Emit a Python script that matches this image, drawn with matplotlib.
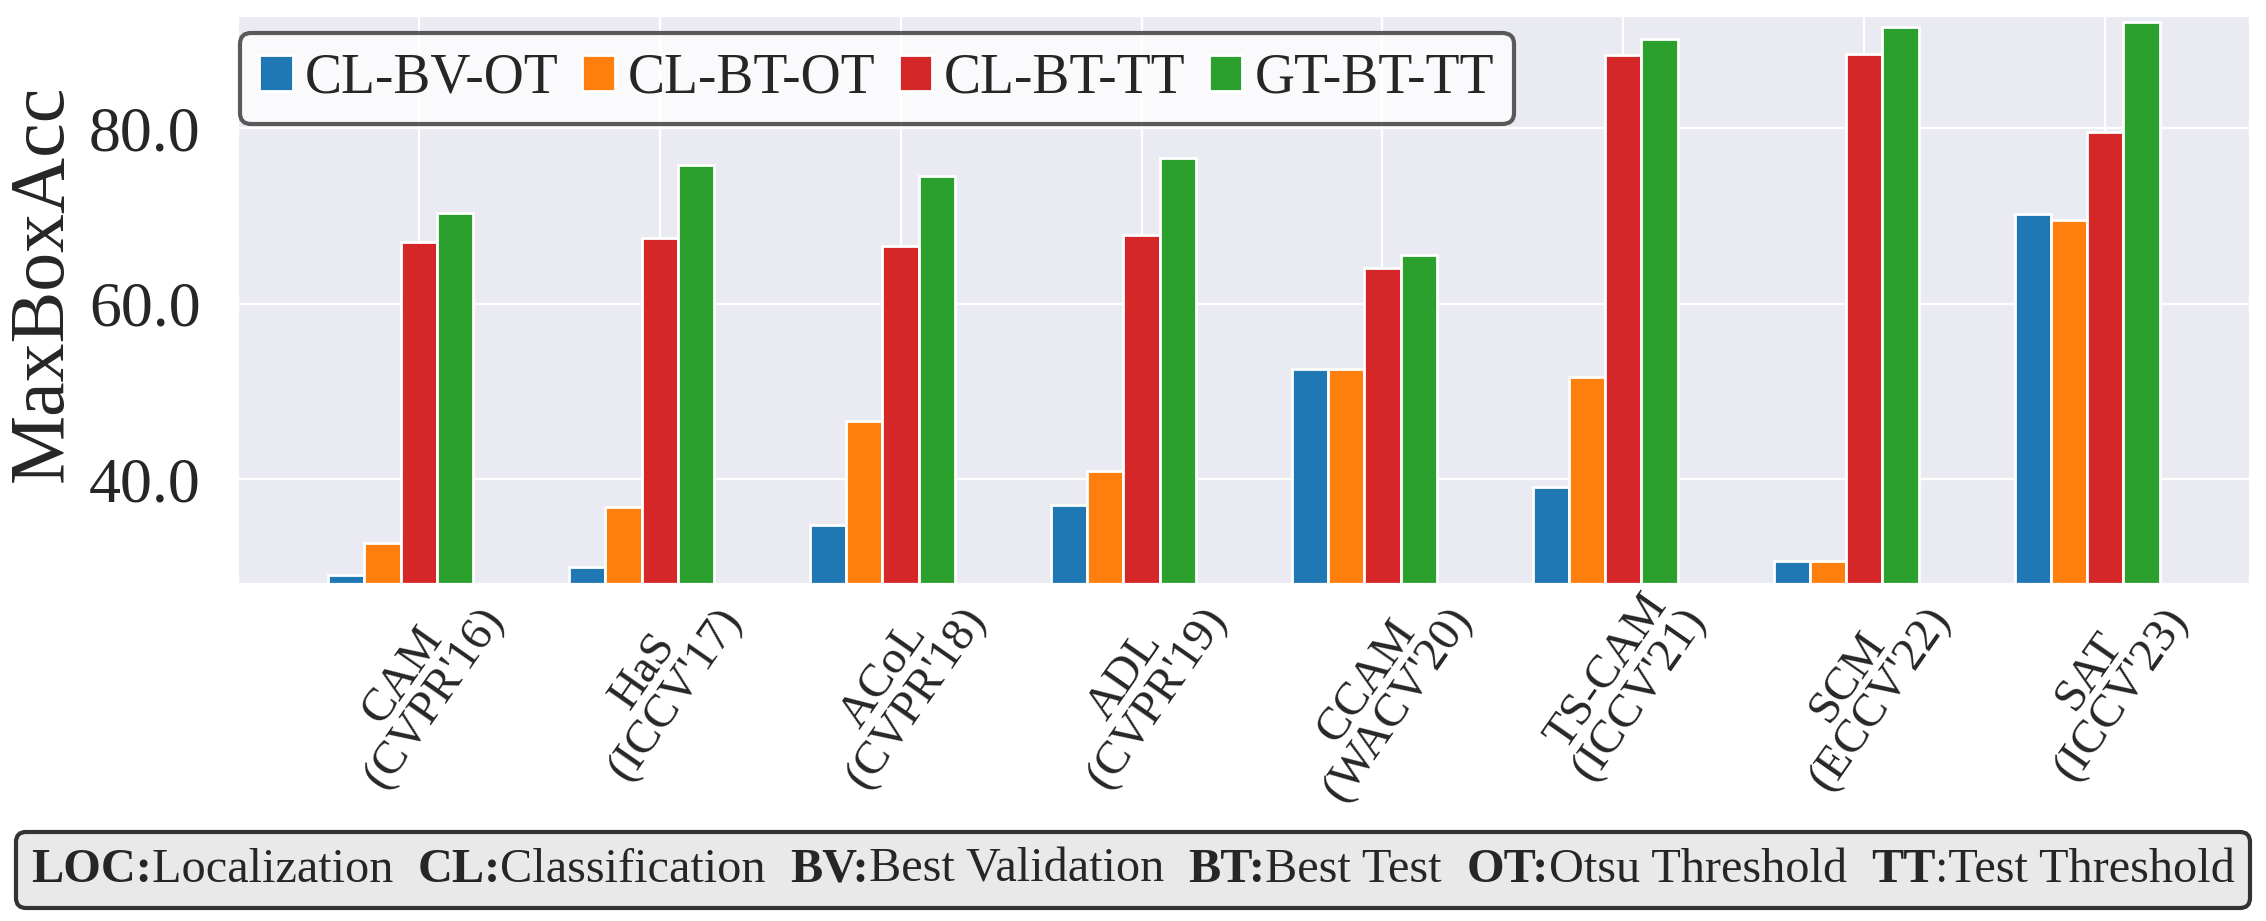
import matplotlib

matplotlib.use("Agg")

import matplotlib.pyplot as plt
import numpy as np
import seaborn as sns
from matplotlib.offsetbox import AnchoredOffsetbox, HPacker, TextArea
from matplotlib.patches import FancyBboxPatch
from matplotlib.ticker import FormatStrFormatter

# données (MaxBoxAcc)
methods = ["CAM\n(CVPR'16)", "HaS\n(ICCV'17)", "ACoL\n(CVPR'18)", "ADL\n(CVPR'19)",
           "CCAM\n(WACV'20)", "TS-CAM\n(ICCV'21)", "SCM\n(ECCV'22)", "SAT\n(ICCV'23)"]
series_names = ["CL-BV-OT", "CL-BT-OT", "CL-BT-TT", "GT-BT-TT"]
cl_bv_ot = [29.1, 30.0, 34.8, 37.1, 52.6, 39.1, 30.7, 70.2]
cl_bt_ot = [32.7, 36.9, 46.6, 40.9, 52.6, 51.7, 30.7, 69.6]
cl_bt_tt = [67.0, 67.5, 66.6, 67.8, 64.1, 88.4, 88.5, 79.6]
gt_bt_tt = [70.4, 75.8, 74.6, 76.6, 65.6, 90.2, 91.5, 92.1]
yticks = [40, 60, 80]

abbrevs = [("LOC:", "Localization"), ("CL:", "Classification"), ("BV:", "Best Validation"),
           ("BT:", "Best Test"), ("OT:", "Otsu Threshold"), ("TT", ":Test Threshold")]

colors = ["#1f77b4", "#ff7f0e", "#d62728", "#2ca02c"]

sns.set_style("darkgrid")
plt.rcParams["font.family"] = ["Liberation Serif", "DejaVu Serif"]

fig = plt.figure(figsize=(11.33, 4.605), dpi=200)
ax = fig.add_axes([0.105, 0.3659, 0.8879, 0.6167])

x = np.arange(len(methods))
width = 0.15
series = [cl_bv_ot, cl_bt_ot, cl_bt_tt, gt_bt_tt]
for i, (vals, name, c) in enumerate(zip(series, series_names, colors)):
    ax.bar(x + (i - 2) * width, vals, width, color=c, edgecolor="white",
           linewidth=1.0, label=name)

ax.set_xlim(-0.75, 7.6)
ax.set_ylim(28.07, 92.8)
ax.set_yticks(yticks)
ax.yaxis.set_major_formatter(FormatStrFormatter("%.1f"))
ax.tick_params(axis="y", labelsize=23, pad=10)
ax.set_xticks(x)
ax.set_xticklabels(methods, rotation=55, ha="center", fontsize=17, linespacing=0.9)
ax.tick_params(axis="x", pad=-6)
ax.set_ylabel("MaxBoxAcc", fontsize=28)
ax.yaxis.set_label_coords(-0.079, 0.53)

leg = ax.legend(loc="upper left", bbox_to_anchor=(0.001, 0.97), borderaxespad=0,
                ncol=4, fontsize=20, handlelength=0.6, handleheight=0.6,
                handletextpad=0.22, columnspacing=0.42, borderpad=0.35,
                fancybox=True, edgecolor="#333333", facecolor="white", framealpha=0.8)
leg.get_frame().set_linewidth(1.5)

# boîte des abréviations en bas (coordonnées en pixels)
frame = FancyBboxPatch((16, 13), 2234, 76, boxstyle="round,pad=0,rounding_size=10",
                       transform=None, facecolor="#e9e9e9", edgecolor="#333333",
                       linewidth=1.5)
fig.add_artist(frame)

parts = []
for k, (bold, normal) in enumerate(abbrevs):
    parts.append(TextArea(bold, textprops=dict(fontsize=17.4, fontweight="bold")))
    txt = normal + ("  " if k < len(abbrevs) - 1 else "")
    parts.append(TextArea(txt, textprops=dict(fontsize=17.4)))
pack = HPacker(children=parts, align="baseline", pad=0, sep=0)
box = AnchoredOffsetbox(loc="center", child=pack, pad=0, borderpad=0, frameon=False,
                        bbox_to_anchor=(0.5, 0.0554), bbox_transform=fig.transFigure)
fig.add_artist(box)

fig.savefig("out.png", dpi=200)
